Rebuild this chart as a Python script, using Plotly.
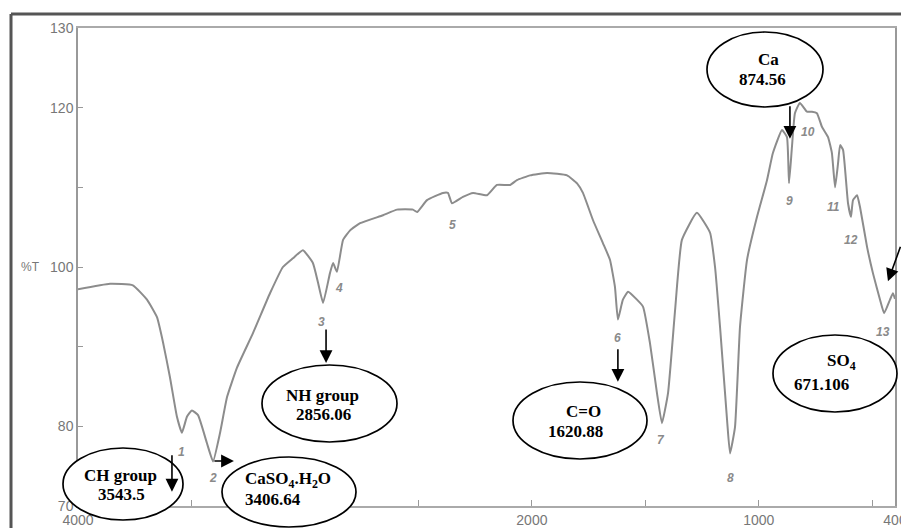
import plotly.graph_objects as go

# ---------------- data ----------------
wavenumber = [4000, 3859, 3758, 3696, 3652, 3625, 3595, 3564, 3542, 3520, 3498, 3471,
              3432, 3405, 3374, 3343, 3299, 3229, 3154, 3097, 3053, 3009, 2965, 2942,
              2920, 2890, 2876, 2859, 2832, 2801, 2757, 2656, 2594, 2524, 2506, 2462,
              2392, 2370, 2352, 2304, 2259, 2198, 2154, 2096, 2066, 2008, 1933, 1845,
              1801, 1775, 1731, 1687, 1656, 1634, 1621, 1599, 1576, 1537, 1510, 1480,
              1449, 1427, 1400, 1369, 1339, 1273, 1215, 1193, 1171, 1140, 1127, 1105,
              1083, 1052, 1008, 964, 938, 898, 876, 867, 854, 841, 819, 788, 766, 744,
              722, 695, 678, 664, 651, 642, 629, 616, 607, 594, 585, 567, 554, 523, 497,
              466, 448, 422, 409, 400]
transmittance = [97.2, 97.9, 97.7, 95.9, 93.7, 90.5, 86.2, 81.2, 79.2, 81.2, 82.0, 81.4,
                 77.9, 75.6, 79.2, 83.7, 87.4, 91.7, 96.7, 100.0, 101.1, 102.1, 100.5, 98.0,
                 95.5, 99.2, 100.5, 99.4, 103.4, 104.6, 105.5, 106.5, 107.2, 107.2, 106.9, 108.4,
                 109.3, 109.3, 108.0, 108.8, 109.3, 109.0, 110.3, 110.3, 110.9, 111.5, 111.8, 111.5,
                 110.5, 109.3, 105.9, 103.0, 100.9, 97.5, 93.4, 95.9, 96.9, 95.9, 95.0, 90.5,
                 84.2, 80.4, 84.2, 94.6, 103.4, 106.8, 104.3, 100.0, 92.5, 80.8, 76.6, 79.9,
                 92.5, 100.9, 106.3, 110.9, 114.3, 117.2, 116.3, 110.5, 115.1, 119.3, 120.6, 119.5, 119.5, 119.3,
                 117.6, 116.3, 114.3, 110.0, 113.0, 115.3, 114.7, 110.9, 108.0, 106.3, 108.4, 109.0, 107.5, 102.5, 99.2,
                 95.9, 94.2, 95.9, 96.7, 96.0]

peak_numbers = ["1", "2", "3", "4", "5", "6", "7", "8", "9", "10", "11", "12", "13"]
peak_label_wn = [3546, 3405, 2925, 2850, 2352, 1621, 1431, 1127, 867, 783, 673, 594, 453]
peak_label_t = [76.8, 73.5, 93.1, 97.4, 105.3, 91.1, 78.3, 73.5, 108.3, 116.9, 107.5, 103.4, 91.8]

x_tick_values = [4000, 3500, 3000, 2500, 2000, 1500, 1000, 500, 400]
x_tick_text = ["4000", "", "", "", "2000", "", "1000", "", "400"]
y_tick_values = [70, 80, 90, 100, 110, 120, 130]
y_tick_text = ["70", "80", "", "100", "", "120", "130"]

band_names = ["CH group", "CaSO<sub>4</sub>.H<sub>2</sub>O", "NH group", "C=O", "Ca", "SO<sub>4</sub>"]
band_values = ["3543.5", "3406.64", "2856.06", "1620.88", "874.56", "671.106"]

# ---------------- layout geometry ----------------
W, H = 901, 528
L, R, T, B = 78, 6, 28, 22
PW, PH = W - L - R, H - T - B


def px(x, y):
    """pixel position -> paper coordinates"""
    return (x - L) / PW, (H - B - y) / PH


fig = go.Figure()
fig.add_trace(go.Scatter(
    x=wavenumber, y=transmittance, mode="lines",
    line=dict(color="#8c8c8c", width=2, shape="spline", smoothing=0.4),
    hoverinfo="x+y", showlegend=False))

annotations = []
shapes = []

# peak numbers
for t, xw, yt in zip(peak_numbers, peak_label_wn, peak_label_t):
    annotations.append(dict(x=xw, y=yt, xref="x", yref="y", text="<b><i>" + t + "</i></b>",
                            showarrow=False, font=dict(family="Liberation Sans", size=12, color="#8a8a8a")))

# ellipses (pixel boxes)
ellipse_boxes = [(63, 448, 183, 520), (222, 457, 356, 527), (262, 365, 397, 442),
                 (513, 382, 647, 459), (707, 32, 823, 107), (773, 335, 897, 412)]
for (x0, y0, x1, y1) in ellipse_boxes:
    p0 = px(x0, y1)
    p1 = px(x1, y0)
    shapes.append(dict(type="circle", xref="paper", yref="paper", x0=p0[0], y0=p0[1], x1=p1[0], y1=p1[1],
                       line=dict(color="black", width=1.7), fillcolor="white", layer="above"))

# label text lines: (px_x, px_y, anchor)
name_pos = [(120, 475, "center"), (243, 480, "left"), (322, 395, "center"),
            (583, 411, "center"), (768, 60, "center"), (841, 362, "center")]
value_pos = [(121, 494, "center"), (243, 499, "left"), (323, 414, "center"),
             (575, 431, "center"), (762, 80, "center"), (821, 384, "center")]
font_lbl = dict(family="Liberation Serif", size=17, color="black")
for txt, (x, y, a) in zip(band_names, name_pos):
    p = px(x, y)
    annotations.append(dict(x=p[0], y=p[1], xref="paper", yref="paper", text="<b>" + txt + "</b>",
                            showarrow=False, xanchor=a, yanchor="middle", font=font_lbl))
for txt, (x, y, a) in zip(band_values, value_pos):
    p = px(x, y)
    annotations.append(dict(x=p[0], y=p[1], xref="paper", yref="paper", text="<b>" + txt + "</b>",
                            showarrow=False, xanchor=a, yanchor="middle", font=font_lbl))

# arrows: tip in data coords, tail offset in pixels
arrows = [(3586, 71.8, 0, -38), (3313, 75.65, -21, 0), (2907, 87.95, 0, -35),
          (1621, 85.6, 0, -34), (863, 116.1, 0, -34), (431, 98.2, 13, -36)]
for xw, yt, ax, ay in arrows:
    annotations.append(dict(x=xw, y=yt, xref="x", yref="y", text="", showarrow=True,
                            ax=ax, ay=ay, axref="pixel", ayref="pixel",
                            arrowhead=2, arrowsize=1.6, arrowwidth=1.6, arrowcolor="black"))

# %T axis label
p = px(42, 0)
annotations.append(dict(x=p[0], y=100, xref="paper", yref="y", text="%T", showarrow=False,
                        xanchor="right", yanchor="middle",
                        font=dict(family="Liberation Sans", size=12, color="#777")))

# outer image frame (top and left)
a0 = px(11, 14)
a1 = px(901, 14)
a2 = px(11, 528)
shapes.append(dict(type="line", xref="paper", yref="paper", x0=a0[0], y0=a0[1], x1=a1[0], y1=a1[1],
                   line=dict(color="#555", width=3)))
shapes.append(dict(type="line", xref="paper", yref="paper", x0=a0[0], y0=a0[1], x1=a2[0], y1=a2[1],
                   line=dict(color="#555", width=3)))

fig.update_layout(
    width=W, height=H, margin=dict(l=L, r=R, t=T, b=B, autoexpand=False),
    paper_bgcolor="white", plot_bgcolor="white",
    showlegend=False, annotations=annotations, shapes=shapes,
    xaxis=dict(range=[4000, 400], tickvals=x_tick_values, ticktext=x_tick_text, automargin=False,
               ticks="inside", ticklen=6, tickcolor="#999", showgrid=False, zeroline=False,
               showline=True, linecolor="#aaa", linewidth=1.5, mirror=True,
               ticklabeloverflow="allow", ticklabelstandoff=0,
               tickfont=dict(family="Liberation Sans", size=14, color="#777")),
    yaxis=dict(range=[70, 130], tickvals=y_tick_values, ticktext=y_tick_text, automargin=False,
               ticks="inside", ticklen=5, tickcolor="#999", showgrid=False, zeroline=False,
               showline=True, linecolor="#999", linewidth=1.5, mirror=True,
               tickfont=dict(family="Liberation Sans", size=14, color="#777")),
)

fig.write_html("out.html", config={"displayModeBar": False},
               post_script="document.body.style.margin='0';document.body.style.overflow='hidden';")
